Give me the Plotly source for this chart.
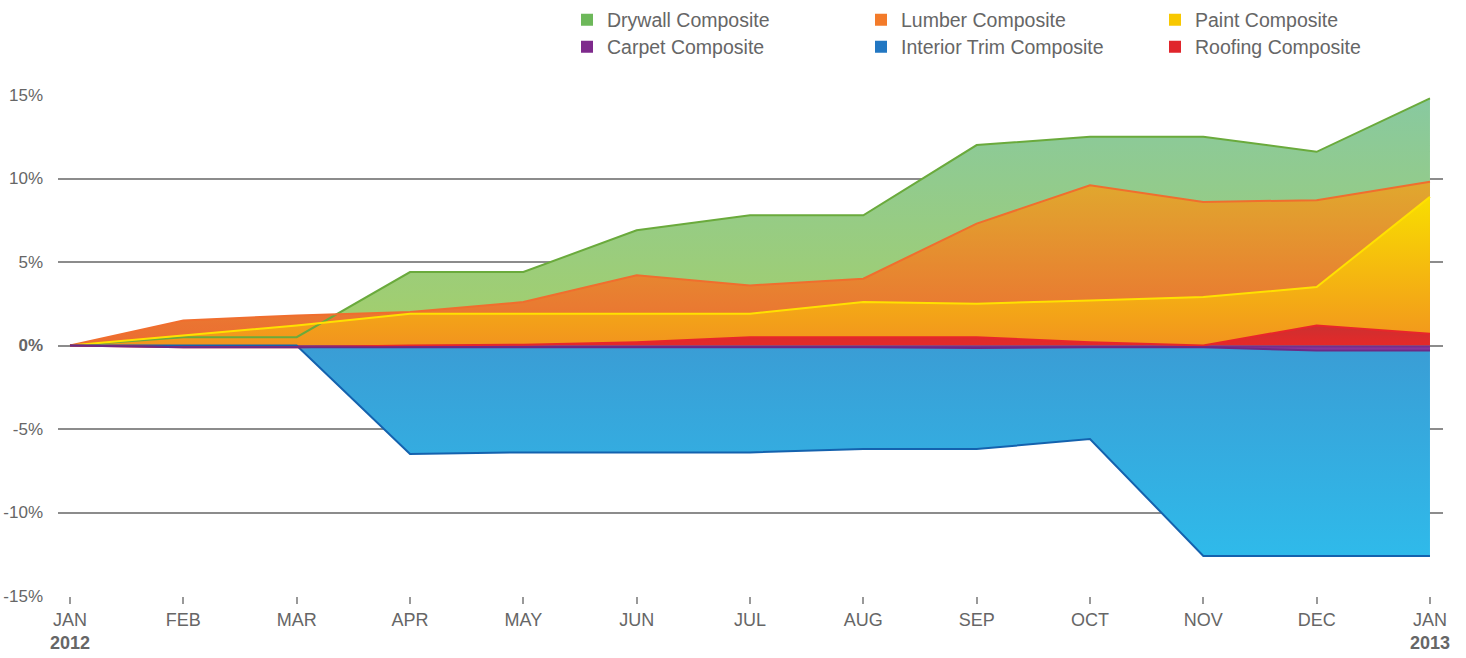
import plotly.graph_objects as go

months = ["JAN", "FEB", "MAR", "APR", "MAY", "JUN", "JUL", "AUG", "SEP", "OCT", "NOV", "DEC", "JAN"]
tick_text = ["JAN<br><b>2012</b>", "FEB", "MAR", "APR", "MAY", "JUN", "JUL", "AUG", "SEP", "OCT", "NOV", "DEC", "JAN<br><b>2013</b>"]
x_idx = list(range(len(months)))

drywall = [0, 0.5, 0.5, 4.4, 4.4, 6.9, 7.8, 7.8, 12.0, 12.5, 12.5, 11.6, 14.8]
lumber = [0, 1.5, 1.8, 2.0, 2.6, 4.2, 3.6, 4.0, 7.3, 9.6, 8.6, 8.7, 9.8]
paint = [0, 0.6, 1.2, 1.9, 1.9, 1.9, 1.9, 2.6, 2.5, 2.7, 2.9, 3.5, 8.9]
interior_trim = [0, 0, 0, -6.5, -6.4, -6.4, -6.4, -6.2, -6.2, -5.6, -12.6, -12.6, -12.6]
roofing = [0, -0.1, -0.1, 0.0, 0.05, 0.2, 0.5, 0.5, 0.5, 0.2, 0.0, 1.2, 0.7]
carpet = [0, -0.1, -0.1, -0.1, -0.1, -0.1, -0.1, -0.1, -0.15, -0.1, -0.1, -0.3, -0.3]

y_ticks = [-15, -10, -5, 0, 5, 10, 15]
y_tick_text = ["-15%", "-10%", "-5%", "<b>0%</b>", "5%", "10%", "15%"]

series = [
    # name, values, line color, gradient low, gradient high, legend, rank
    ("Drywall Composite", drywall, "#6AAA3C", "#A5CF68", "#88C9A0", "legend", 1),
    ("Lumber Composite", lumber, "#F06E2E", "#EC6C32", "#E0A82E", "legend", 2),
    ("Paint Composite", paint, "#FFE100", "#F2941E", "#F8DE00", "legend", 3),
    ("Interior Trim Composite", interior_trim, "#1462AE", "#2FBAEA", "#3A9DD5", "legend2", 2),
    ("Roofing Composite", roofing, "#E8262A", "#E82828", "#CC3030", "legend2", 3),
    ("Carpet Composite", carpet, "#6B2A86", "#9A3DA6", "#6E2A88", "legend2", 1),
]

fig = go.Figure()
# filled areas (no outline)
for name, vals, lc, c0, c1, lg, rank in series:
    fig.add_trace(go.Scatter(
        x=x_idx, y=vals, mode="lines", name=name,
        line=dict(color=lc, width=0),
        fill="tozeroy",
        fillgradient=dict(type="vertical", colorscale=[[0, c0], [1, c1]]),
        showlegend=False, hoverinfo="skip",
    ))
# outlines on top of all fills
for name, vals, lc, c0, c1, lg, rank in series:
    fig.add_trace(go.Scatter(
        x=x_idx, y=vals, mode="lines", name=name,
        line=dict(color=lc, width=2),
        showlegend=False, hoverinfo="skip",
    ))

legend_markers = {
    "Drywall Composite": "#6DB85A",
    "Lumber Composite": "#F37B2A",
    "Paint Composite": "#F8C800",
    "Carpet Composite": "#7E2A8C",
    "Interior Trim Composite": "#2277C2",
    "Roofing Composite": "#E0252B",
}
for name, vals, lc, c0, c1, lg, rank in series:
    fig.add_trace(go.Scatter(
        x=[None], y=[None], mode="markers", name=name,
        marker=dict(symbol="square", size=12, color=legend_markers[name]),
        legend=lg, legendrank=rank, showlegend=True,
    ))

W, H = 1466, 658
font_fam = "Liberation Sans, Arial, sans-serif"
legend_common = dict(
    orientation="h", xanchor="left", yanchor="middle",
    xref="container", yref="container",
    entrywidth=249, entrywidthmode="pixels",
    font=dict(family=font_fam, size=19.5, color="#666666"),
    bgcolor="rgba(0,0,0,0)", borderwidth=0, itemclick=False,
)

fig.update_layout(
    width=W, height=H,
    margin=dict(l=58, r=23, t=95, b=62, autoexpand=False),
    plot_bgcolor="white", paper_bgcolor="white",
    font=dict(family=font_fam, size=17, color="#666666"),
    legend=dict(x=567 / W, y=1 - 20 / H, **legend_common),
    legend2=dict(x=567 / W, y=1 - 47 / H, **legend_common),
    showlegend=True,
)
fig.update_xaxes(
    range=[-0.106, 12.115], tickvals=x_idx, ticktext=tick_text,
    showgrid=False, zeroline=False,
    showline=False, ticks="outside", ticklen=7, tickwidth=1.5, tickcolor="#999999",
    tickfont=dict(family=font_fam, size=18, color="#666666"),
    fixedrange=True,
)
fig.update_yaxes(
    range=[-15, 15], tickvals=y_ticks, ticktext=y_tick_text,
    showgrid=True, gridcolor="#8C8C8C", gridwidth=1.5,
    zeroline=False, showline=False, ticks="", ticklabelstandoff=14,
    tickfont=dict(family=font_fam, size=17, color="#666666"),
    fixedrange=True,
)

# remove the browser's default 8px page margin so the figure fills the window exactly
fig.write_html(
    "out.html",
    config={"displayModeBar": False},
    post_script="document.body.style.margin='0';document.body.style.overflow='hidden';",
)
